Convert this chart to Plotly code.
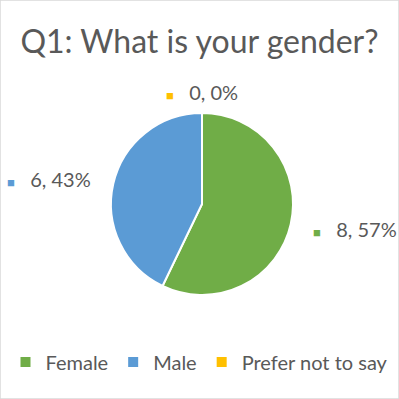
import math
import plotly.graph_objects as go

labels = ["Female", "Male", "Prefer not to say"]
values = [8, 6, 0]
colors = ["#70AD47", "#5B9BD5", "#FFC000"]
title = "Q1: What is your gender?"

W = H = 399
cx, cy, r = 202, 204, 91
font = "Lato, Open Sans, sans-serif"
grey = "#595959"

fig = go.Figure(go.Pie(
    labels=labels, values=values, marker=dict(colors=colors, line=dict(color="white", width=2)),
    sort=False, direction="clockwise", rotation=0, textinfo="none", hoverinfo="label+value+percent",
    domain=dict(x=[(cx - r) / W, (cx + r) / W], y=[1 - (cy + r) / H, 1 - (cy - r) / H]),
    showlegend=True,
))

total = sum(values)
cum = 0
annots = []
for lab, v, c in zip(labels, values, colors):
    mid = (cum + v / 2) / total * 2 * math.pi
    cum += v
    pct = round(v / total * 100)
    dist = r + 21
    dx, dy = math.sin(mid), -math.cos(mid)
    x = cx + dist * dx
    y = cy + dist * dy
    if abs(dx) < 0.3:
        xanchor = "center"
    elif dx > 0:
        xanchor = "left"
    else:
        xanchor = "right"
    annots.append(dict(
        x=x / W, y=1 - y / H, xref="paper", yref="paper", xanchor=xanchor, yanchor="middle",
        text=f"<span style='color:{c};font-size:13px'>■</span>   {v}, {pct}%",
        showarrow=False, font=dict(family=font, size=20, color=grey),
    ))

fig.update_layout(
    width=W, height=H, margin=dict(l=0, r=0, t=0, b=0),
    paper_bgcolor="white", plot_bgcolor="white",
    title=dict(text=title, x=0.5, xanchor="center", y=1 - 42 / H, yanchor="middle",
               font=dict(family=font, size=32, color=grey)),
    legend=dict(orientation="h", x=0.5, xanchor="center", y=1 - 362 / H, yanchor="middle",
                font=dict(family=font, size=20, color=grey), itemwidth=30),
    annotations=annots,
    shapes=[dict(type="rect", xref="paper", yref="paper", x0=0, y0=0, x1=1, y1=1,
                 line=dict(color="#d9d9d9", width=1.5))],
)
fig.write_html("out.html", config={"displayModeBar": False},
               post_script="document.body.style.margin='0';document.body.style.overflow='hidden';")
